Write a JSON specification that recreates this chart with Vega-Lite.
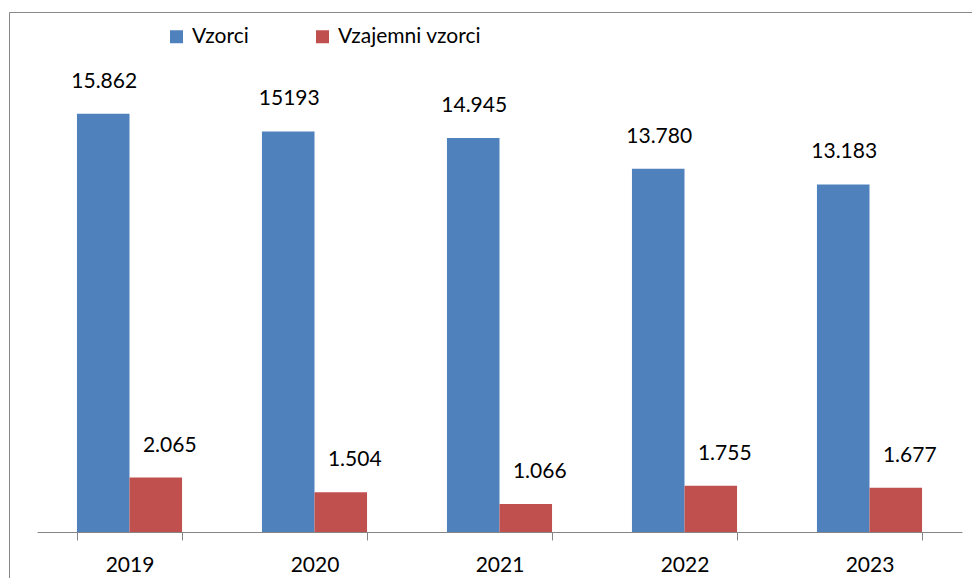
{
  "$schema": "https://vega.github.io/schema/vega-lite/v6.json",
  "autosize": "none",
  "padding": {"left": 9, "top": 12, "right": 0, "bottom": 0},
  "width": 990,
  "height": 590,
  "background": "white",
  "config": {
    "view": {"stroke": "#898989", "strokeWidth": 1},
    "font": "Lato"
  },
  "data": {
    "values": [
      {"year": "2019", "series": "Vzorci", "value": 15862, "lab": "15.862"},
      {"year": "2019", "series": "Vzajemni vzorci", "value": 2065, "lab": "2.065"},
      {"year": "2020", "series": "Vzorci", "value": 15193, "lab": "15193"},
      {"year": "2020", "series": "Vzajemni vzorci", "value": 1504, "lab": "1.504"},
      {"year": "2021", "series": "Vzorci", "value": 14945, "lab": "14.945"},
      {"year": "2021", "series": "Vzajemni vzorci", "value": 1066, "lab": "1.066"},
      {"year": "2022", "series": "Vzorci", "value": 13780, "lab": "13.780"},
      {"year": "2022", "series": "Vzajemni vzorci", "value": 1755, "lab": "1.755"},
      {"year": "2023", "series": "Vzorci", "value": 13183, "lab": "13.183"},
      {"year": "2023", "series": "Vzajemni vzorci", "value": 1677, "lab": "1.677"}
    ]
  },
  "encoding": {
    "x": {
      "field": "year", "type": "nominal",
      "scale": {"type": "band", "range": [28, 953], "paddingInner": 0.432, "paddingOuter": 0.216},
      "axis": {
        "title": null, "labelAngle": 0, "offset": -70, "tickBand": "extent",
        "domainColor": "#868686", "tickColor": "#868686", "tickSize": 8,
        "labelFontSize": 21, "labelColor": "#000000", "labelPadding": 14,
        "labelFont": "Lato", "grid": false
      }
    },
    "xOffset": {
      "field": "series", "type": "nominal",
      "scale": {"domain": ["Vzorci", "Vzajemni vzorci"], "paddingInner": 0, "paddingOuter": 0}
    },
    "y": {
      "field": "value", "type": "quantitative",
      "scale": {"domain": [0, 18000], "range": [520, 45.5], "nice": false, "zero": true},
      "axis": null
    }
  },
  "layer": [
    {
      "mark": {"type": "bar"},
      "encoding": {
        "color": {
          "field": "series", "type": "nominal",
          "scale": {"domain": ["Vzorci", "Vzajemni vzorci"], "range": ["#4F81BD", "#C0504D"]},
          "legend": {
            "title": null, "orient": "none", "direction": "horizontal",
            "legendX": 157, "legendY": 14, "padding": 0,
            "symbolType": "square", "symbolSize": 169, "symbolStrokeWidth": 0,
            "labelFontSize": 21, "labelFont": "Lato", "labelColor": "#000000",
            "labelOffset": 5, "columnPadding": 63
          }
        }
      }
    },
    {
      "transform": [{"filter": "datum.series === 'Vzorci'"}],
      "mark": {"type": "text", "baseline": "alphabetic", "align": "center", "dy": -26, "dx": 1, "fontSize": 21, "font": "Lato", "color": "#000000"},
      "encoding": {"text": {"field": "lab"}}
    },
    {
      "transform": [{"filter": "datum.series === 'Vzajemni vzorci'"}],
      "mark": {"type": "text", "baseline": "alphabetic", "align": "center", "dy": -26, "dx": 14, "fontSize": 21, "font": "Lato", "color": "#000000"},
      "encoding": {"text": {"field": "lab"}}
    }
  ]
}
